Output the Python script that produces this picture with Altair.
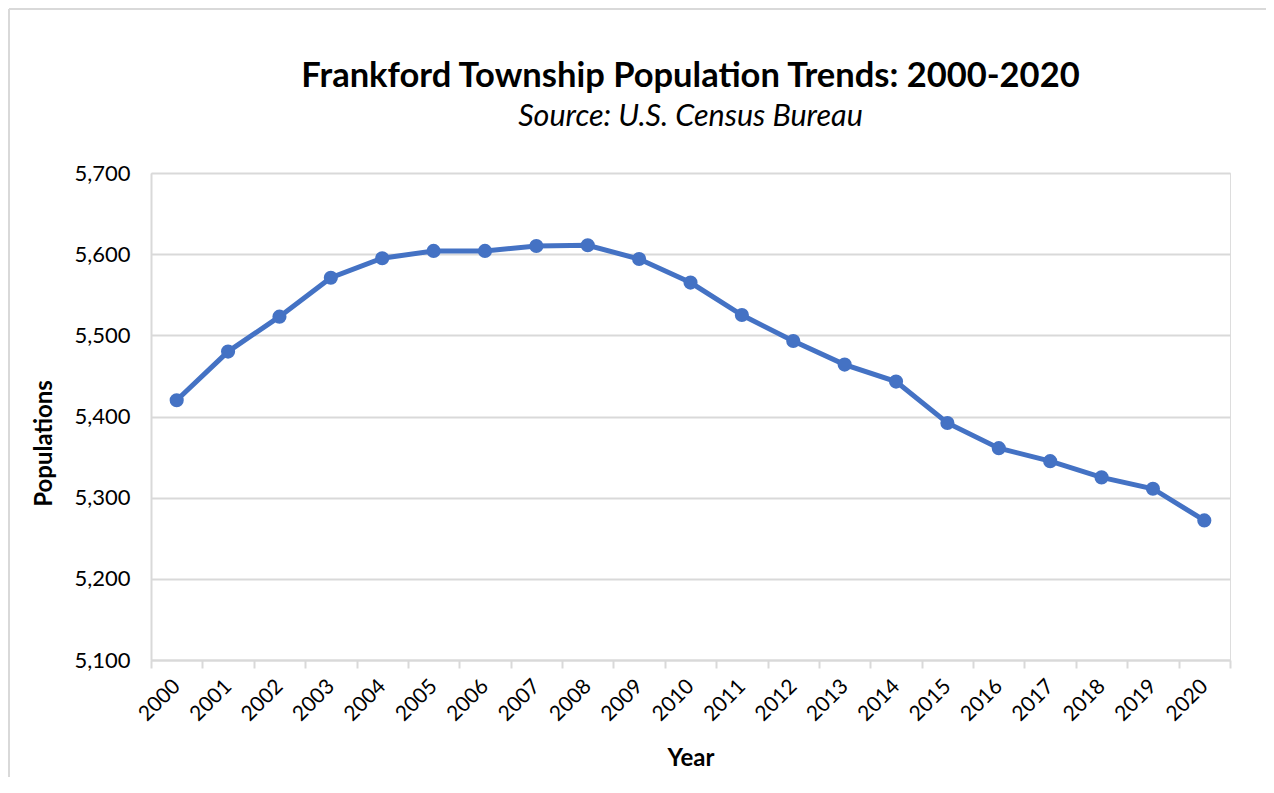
import altair as alt
import pandas as pd

years = ["2000", "2001", "2002", "2003", "2004", "2005", "2006", "2007", "2008", "2009", "2010",
         "2011", "2012", "2013", "2014", "2015", "2016", "2017", "2018", "2019", "2020"]
population = [5420, 5480, 5523, 5571, 5595, 5604, 5604, 5610, 5611, 5594, 5565,
              5525, 5493, 5464, 5443, 5392, 5361, 5345, 5325, 5311, 5272]
y_ticks = [5100, 5200, 5300, 5400, 5500, 5600, 5700]

df = pd.DataFrame({"Year": years, "Population": population})

FONT = "Lato"
BLUE = "#4472C4"
GRID = "#D9D9D9"

W, H = 1079, 487
PAD = {"left": 143, "top": 165, "right": 36, "bottom": 117}

x = alt.X(
    "Year:N", sort=years, bandPosition=0.5,
    scale=alt.Scale(type="band", paddingInner=0, paddingOuter=0),
    axis=alt.Axis(
        title="Year", tickBand="extent", labelAngle=-45, labelAlign="right",
        labelBaseline="middle", labelFontSize=21, labelColor="#000000",
        labelPadding=15, tickColor=GRID, tickSize=8, tickWidth=2,
        domainColor=GRID, domainWidth=2, grid=False,
        titleFontSize=24, titleFontWeight="bold", titleColor="#000000",
        titleBaseline="alphabetic", titleY=105,
        labelFont=FONT, titleFont=FONT,
    ),
)
y = alt.Y(
    "Population:Q",
    scale=alt.Scale(domain=[5100, 5700], nice=False, zero=False),
    axis=alt.Axis(
        title="Populations", values=y_ticks, format=",d", labelFontSize=22,
        labelColor="#000000", labelPadding=21, ticks=False, domainColor=GRID,
        domainWidth=2, gridColor=GRID, gridWidth=2, titleFontSize=24,
        titleFontWeight="bold", titleColor="#000000",
        titleX=-107, titleY=270, titleAlign="center", titleBaseline="middle",
        labelFont=FONT, titleFont=FONT,
    ),
)

# decorative chart-area border edges (top and left, as in the spreadsheet export)
one = pd.DataFrame({"f": [0]})
top_edge = alt.Chart(one).mark_rule(color=GRID, strokeWidth=2).encode(
    x=alt.value(-142), x2=alt.value(W + PAD["right"]), y=alt.value(-164)
)
left_edge = alt.Chart(one).mark_rule(color=GRID, strokeWidth=2).encode(
    x=alt.value(-142), y=alt.value(-164), y2=alt.value(H + PAD["bottom"])
)

line = alt.Chart(df).mark_line(color=BLUE, strokeWidth=5).encode(x=x, y=y)
pts = alt.Chart(df).mark_circle(color=BLUE, opacity=1, size=200).encode(x=x, y=y)

chart = (
    alt.layer(top_edge, left_edge, line, pts)
    .properties(
        width=W, height=H,
        title=alt.TitleParams(
            text="Frankford Township Population Trends: 2000-2020",
            subtitle="Source: U.S. Census Bureau",
            anchor="middle", frame="group", font=FONT, fontSize=34.5, fontWeight="bold",
            color="#000000", subtitleFont=FONT, subtitleFontSize=30.5,
            subtitleFontStyle="italic", subtitleColor="#000000", subtitlePadding=7,
            offset=-125,
        ),
        autosize=alt.AutoSizeParams(type="none"),
        padding=PAD,
    )
    .configure_view(stroke=None)
    .configure(background="white")
)

chart.save("out.html", embed_options={"renderer": "svg", "actions": False})
